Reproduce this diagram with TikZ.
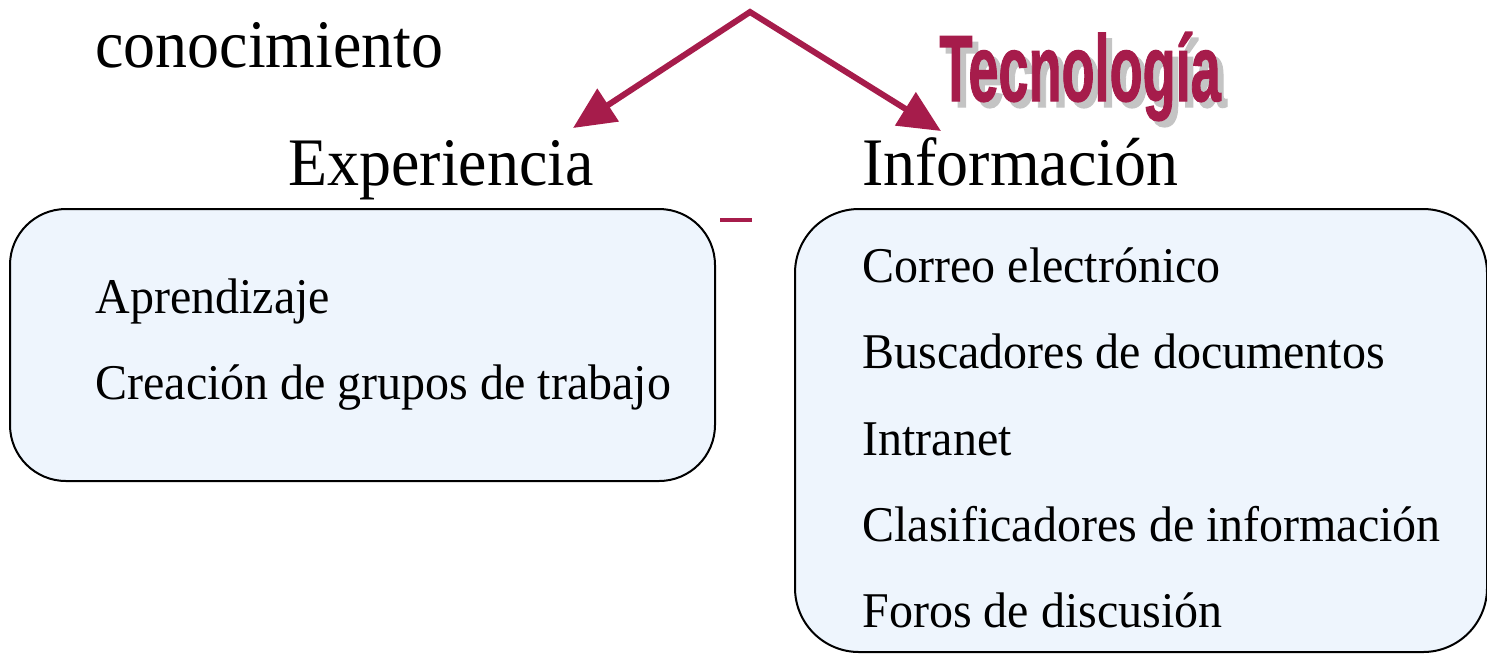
\documentclass[tikz,border=0pt]{standalone}
\usepackage{fontspec}
\setmainfont{Liberation Serif}
\newfontfamily\wordart{Liberation Sans}[BoldFeatures={FakeBold=1.5}]
\usetikzlibrary{arrows.meta}
\definecolor{maroon}{HTML}{A61C4B}
\definecolor{boxfill}{HTML}{EEF5FD}
\definecolor{shadowgray}{HTML}{C4C4C4}
\newcommand\hsq[2]{\scalebox{#1}[1]{#2}}
\newcommand\tecword{\scalebox{0.575}[1]{\wordart\bfseries\fontsize{47}{50}\selectfont Tecnología}}
\tikzset{
  headtext/.style={anchor=base west, inner sep=0pt, font=\fontsize{34}{40}\selectfont},
  itemtext/.style={anchor=base west, inner sep=0pt, font=\fontsize{25}{30}\selectfont},
  panel/.style={draw=black, line width=1pt, fill=boxfill, rounded corners=28pt},
  branch/.style={draw=maroon, line width=3pt, line join=miter, {Triangle[length=21pt,width=19pt]}-{Triangle[length=21pt,width=19pt]}},
}
\begin{document}
\begin{tikzpicture}[x=0.5pt,y=-0.5pt]
\useasboundingbox (0,0) rectangle (1487,655);
% boxes
\path[panel] (10,209) rectangle (715,481);
\path[panel, rounded corners=32pt] (795,209) rectangle (1487,652);
% title remnant
\node[headtext] (cono) at (95,67) {\hsq{0.94}{conocimiento}};
% headings
\node[headtext] (exp) at (288,185) {\hsq{0.94}{Experiencia}};
\node[headtext] (inf) at (862,185) {\hsq{0.94}{Información}};
% Tecnologia word art
\node[anchor=base west, inner sep=0pt, text=shadowgray] (tecsh) at (945,107) {\tecword};
\node[anchor=base west, inner sep=0pt, text=maroon] (tec) at (939,101) {\tecword};
% arrows
\coordinate (apex) at (750,12);
\coordinate (ltip) at (573,128);
\coordinate (rtip) at (941,131);
\draw[branch] (ltip) -- (apex) -- (rtip);
% small dash
\coordinate (d1) at (720,220);
\coordinate (d2) at (752,220);
\draw[maroon, line width=2pt] (d1) -- (d2);
% left items
\node[itemtext] (a1) at (95,313) {\hsq{0.96}{Aprendizaje}};
\node[itemtext] (a2) at (95,399) {\hsq{0.96}{Creación de grupos de trabajo}};
% right items
\node[itemtext] (b1) at (862,282) {\hsq{0.96}{Correo electrónico}};
\node[itemtext] (b2) at (862,368) {\hsq{0.96}{Buscadores de documentos}};
\node[itemtext] (b3) at (862,455) {\hsq{0.96}{Intranet}};
\node[itemtext] (b4) at (862,541) {\hsq{0.96}{Clasificadores de información}};
\node[itemtext] (b5) at (862,627) {\hsq{0.96}{Foros de discusión}};
\end{tikzpicture}
\end{document}
